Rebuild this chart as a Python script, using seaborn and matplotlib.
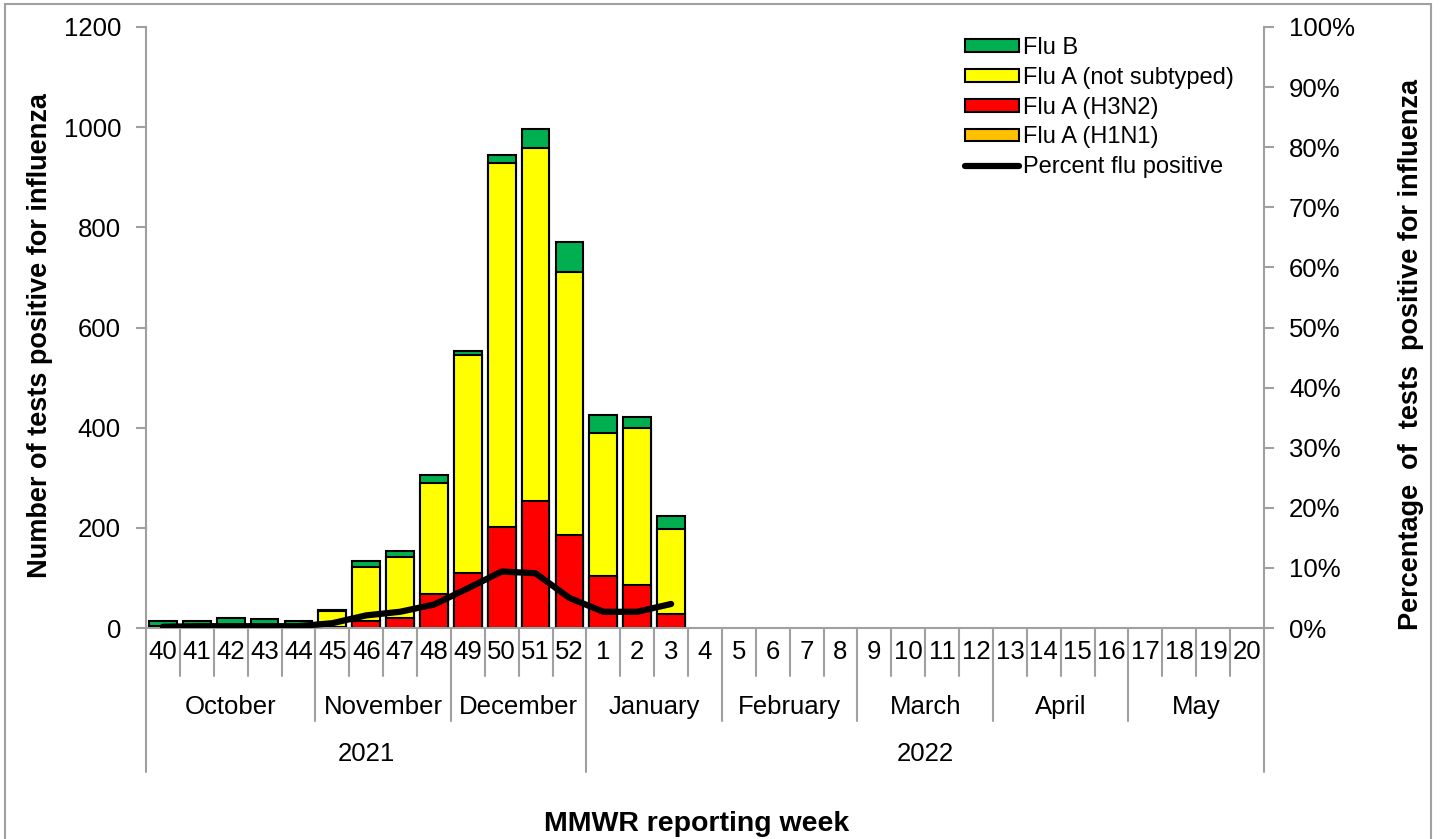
import numpy as np
import pandas as pd
import seaborn as sns
import matplotlib.pyplot as plt
import matplotlib.patches as mpatches
import matplotlib.transforms as mtransforms
from matplotlib.lines import Line2D
from matplotlib.ticker import PercentFormatter

nan = np.nan

# MMWR weeks, season 2021-22
weeks = ['40', '41', '42', '43', '44', '45', '46', '47', '48', '49', '50', '51', '52',
         '1', '2', '3', '4', '5', '6', '7', '8', '9', '10', '11', '12',
         '13', '14', '15', '16', '17', '18', '19', '20']

flu_a_h1n1 = [0, 0, 0, 0, 0, 0, 0, 0, 0, 0, 0, 0, 0, 0, 0, 0,
              nan, nan, nan, nan, nan, nan, nan, nan, nan, nan, nan, nan, nan, nan, nan, nan, nan]
flu_a_h3n2 = [0, 0, 0, 0, 0, 2, 14, 20, 68, 110, 202, 253, 185, 104, 86, 28,
              nan, nan, nan, nan, nan, nan, nan, nan, nan, nan, nan, nan, nan, nan, nan, nan, nan]
flu_a_not_subtyped = [4, 0, 0, 0, 1, 31, 108, 122, 221, 435, 726, 705, 526, 285, 314, 169,
                      nan, nan, nan, nan, nan, nan, nan, nan, nan, nan, nan, nan, nan, nan, nan, nan, nan]
flu_b = [9, 13, 20, 17, 12, 3, 11, 12, 16, 8, 16, 38, 60, 36, 21, 27,
         nan, nan, nan, nan, nan, nan, nan, nan, nan, nan, nan, nan, nan, nan, nan, nan, nan]
pct_positive = [0.2, 0.3, 0.3, 0.3, 0.3, 0.8, 2.1, 2.7, 3.9, 6.6, 9.4, 9.1, 5.0, 2.7, 2.7, 4.0,
                nan, nan, nan, nan, nan, nan, nan, nan, nan, nan, nan, nan, nan, nan, nan, nan, nan]

months = ['October', 'November', 'December', 'January', 'February', 'March', 'April', 'May']
month_weeks = [5, 4, 4, 4, 4, 4, 4, 4]
years = ['2021', '2022']
year_weeks = [13, 20]

GREEN = '#00B050'
YELLOW = '#FFFF00'
RED = '#FF0000'
ORANGE = '#FFC000'
GRAY = '#a0a0a0'

W, H = 1440, 839


def fy(ypix):
    # pixel row -> figure fraction
    return 1 - ypix / H


df = pd.DataFrame({'week': weeks, 'h1n1': flu_a_h1n1, 'h3n2': flu_a_h3n2,
                   'ns': flu_a_not_subtyped, 'b': flu_b, 'pct': pct_positive})
# cumulative tops for the stacked look (drawn back to front)
df['top_orange'] = df['h1n1']
df['top_red'] = df['top_orange'] + df['h3n2']
df['top_yellow'] = df['top_red'] + df['ns']
df['top_green'] = df['top_yellow'] + df['b']

sns.set_theme(style='white')
plt.rcParams['font.family'] = ['Liberation Sans', 'DejaVu Sans']
plt.rcParams.update({'text.color': 'black', 'axes.labelcolor': 'black',
                     'xtick.color': 'black', 'ytick.color': 'black'})

fig = plt.figure(figsize=(W / 100, H / 100), dpi=100)
ax = fig.add_axes([146 / W, fy(628), (1264 - 146) / W, (628 - 27) / H])

bar_kw = dict(data=df, x='week', order=weeks, edgecolor='black', linewidth=1.5,
              width=0.82, saturation=1, errorbar=None, ax=ax)
sns.barplot(y='top_green', color=GREEN, **bar_kw)
sns.barplot(y='top_yellow', color=YELLOW, **bar_kw)
sns.barplot(y='top_red', color=RED, **bar_kw)
sns.barplot(y='top_orange', color=ORANGE, **bar_kw)

ax.set_ylim(0, 1200)
ax.set_yticks(range(0, 1201, 200))
ax.set_xlim(-0.5, len(weeks) - 0.5)
ax.set_xlabel('')
ax.set_ylabel('Number of tests positive for influenza', fontsize=19.5, fontweight='bold')
ax.yaxis.set_label_coords(-0.083, 0.487)
ax.tick_params(axis='x', length=0, labelbottom=False)
ax.tick_params(axis='y', left=True, direction='out', length=7, width=1.5, color=GRAY,
               labelcolor='black', labelsize=18.5, pad=11)
for side in ['left', 'bottom']:
    ax.spines[side].set_color(GRAY)
    ax.spines[side].set_linewidth(1.5)
ax.spines['top'].set_visible(False)
ax.spines['right'].set_visible(False)

ax2 = ax.twinx()
sns.lineplot(x=np.arange(len(weeks)), y=df['pct'], color='black', linewidth=4.5,
             solid_capstyle='round', ax=ax2)
ax2.set_xlim(-0.5, len(weeks) - 0.5)
ax2.set_ylim(0, 100)
ax2.set_yticks(range(0, 101, 10))
ax2.yaxis.set_major_formatter(PercentFormatter(100, decimals=0))
ax2.set_ylabel('Percentage  of  tests  positive for influenza', fontsize=19.5, fontweight='bold')
ax2.yaxis.set_label_coords(1.12, 0.455)
ax2.tick_params(axis='y', right=True, direction='out', length=7, width=1.5, color=GRAY,
                labelcolor='black', labelsize=18.5, pad=11)
ax2.tick_params(axis='x', length=0, labelbottom=False)
for side in ['left', 'bottom', 'top']:
    ax2.spines[side].set_visible(False)
ax2.spines['right'].set_color(GRAY)
ax2.spines['right'].set_linewidth(1.5)
ax2.grid(False)
ax.grid(False)

# hierarchical category axis: week / month / year
trans = mtransforms.blended_transform_factory(ax.transData, fig.transFigure)
month_edges = np.cumsum([0] + month_weeks)
year_edges = np.cumsum([0] + year_weeks)
for i in range(len(weeks) + 1):
    if i in year_edges:
        y_end = 772
    elif i in month_edges:
        y_end = 721
    else:
        y_end = 676
    ax.plot([i - 0.5, i - 0.5], [fy(628), fy(y_end)], transform=trans, color=GRAY,
            lw=1.5, clip_on=False)
for i, w in enumerate(weeks):
    ax.text(i, fy(652), w, transform=trans, ha='center', va='center', fontsize=18.5)
for m, start, n in zip(months, month_edges[:-1], month_weeks):
    ax.text(start + n / 2 - 0.5, fy(707), m, transform=trans, ha='center', va='center', fontsize=18.5)
for yr, start, n in zip(years, year_edges[:-1], year_weeks):
    ax.text(start + n / 2 - 0.5, fy(754), yr, transform=trans, ha='center', va='center', fontsize=18.5)

fig.text(697 / W, fy(824), 'MMWR reporting week', ha='center', va='center',
         fontsize=20.5, fontweight='bold')

handles = [mpatches.Patch(facecolor=GREEN, edgecolor='black', linewidth=1.5),
           mpatches.Patch(facecolor=YELLOW, edgecolor='black', linewidth=1.5),
           mpatches.Patch(facecolor=RED, edgecolor='black', linewidth=1.5),
           mpatches.Patch(facecolor=ORANGE, edgecolor='black', linewidth=1.5),
           Line2D([], [], color='black', linewidth=4.5, solid_capstyle='round')]
labels = ['Flu B', 'Flu A (not subtyped)', 'Flu A (H3N2)', 'Flu A (H1N1)', 'Percent flu positive']
ax2.legend(handles, labels, loc='upper left', bbox_to_anchor=(965 / W, fy(37)),
           bbox_transform=fig.transFigure, frameon=False, fontsize=17, handlelength=2.3,
           handleheight=0.45, handletextpad=0.15, labelspacing=0.33, borderpad=0,
           borderaxespad=0)

# outer chart frame
fig.patches.append(mpatches.Rectangle((5 / W, -0.02), (1431 - 5) / W, 1.02 - 4 / H,
                                      transform=fig.transFigure, fill=False,
                                      edgecolor=GRAY, linewidth=1.5))

fig.savefig('out.png', dpi=100)
